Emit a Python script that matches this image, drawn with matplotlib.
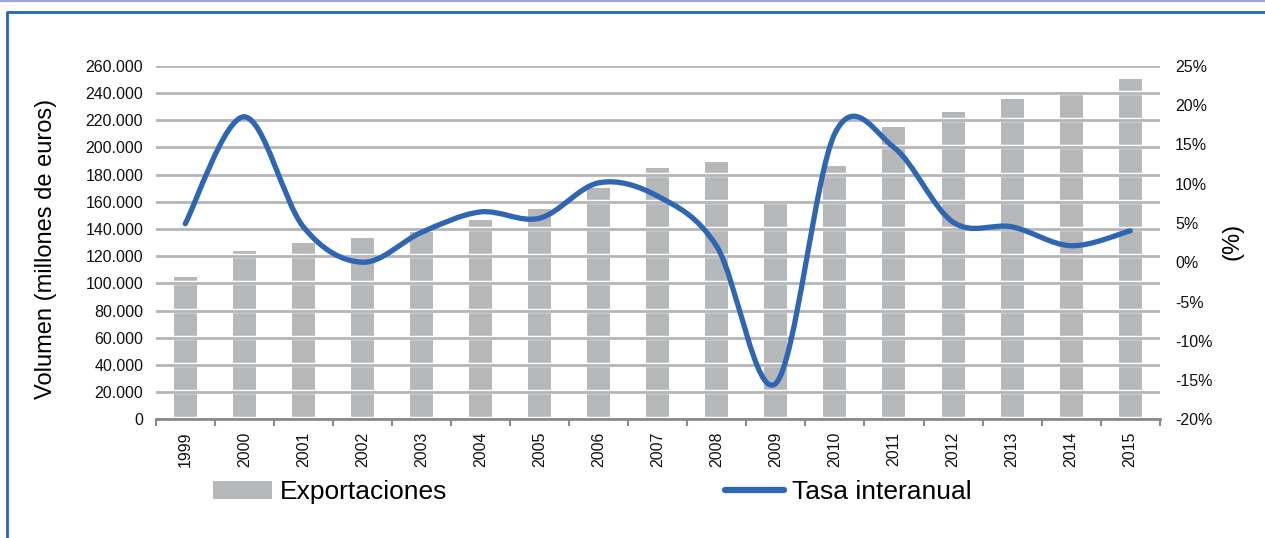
import numpy as np
import matplotlib.pyplot as plt
import matplotlib.patheffects as pe
from matplotlib.path import Path
from matplotlib.patches import PathPatch, Patch
from matplotlib.lines import Line2D
from matplotlib.ticker import FuncFormatter, FixedLocator

plt.rcParams['font.family'] = ['Liberation Sans', 'DejaVu Sans']

years = ['1999', '2000', '2001', '2002', '2003', '2004', '2005', '2006', '2007',
         '2008', '2009', '2010', '2011', '2012', '2013', '2014', '2015']
exportaciones = [104600, 123900, 129600, 133200, 137600, 146700, 154800, 170400, 185000,
                 189300, 159000, 186600, 215300, 225900, 235700, 240800, 250400]
tasa = [4.9, 18.5, 4.5, 0.0, 3.8, 6.4, 5.6, 10.1, 8.4,
        2.0, -15.4, 16.4, 14.6, 5.1, 4.5, 2.1, 4.0]

bar_color = '#b5b7b9'
line_color = '#2f66b3'
grid_color = '#b4b6b8'


def smooth_path(xs, ys):
    # excel-like smoothed line: bezier segments through every point
    pts = np.column_stack([xs, ys]).astype(float)
    n = len(pts)
    verts = [pts[0]]
    codes = [Path.MOVETO]
    for i in range(n - 1):
        p0 = pts[i - 1] if i > 0 else pts[i]
        p1 = pts[i]
        p2 = pts[i + 1]
        p3 = pts[i + 2] if i + 2 < n else pts[i + 1]
        verts += [p1 + (p2 - p0) / 6, p2 - (p3 - p1) / 6, p2]
        codes += [Path.CURVE4] * 3
    return Path(verts, codes)


fig = plt.figure(figsize=(12.65, 5.38), dpi=100)
ax = fig.add_axes([0.1231, 0.2203, 0.7937, 0.6576])
x = np.arange(len(years))

ax.bar(x, exportaciones, width=0.39, color=bar_color, zorder=1)
ax.set_xlim(-0.5, len(years) - 0.5)
ax.set_ylim(0, 260000)
ax.set_yticks(np.arange(0, 260001, 20000))
ax.yaxis.set_major_formatter(FuncFormatter(lambda v, p: f'{int(v):,}'.replace(',', '.')))
ax.set_axisbelow(False)
ax.grid(axis='y', color=grid_color, linewidth=2.0, zorder=2,
        path_effects=[pe.Stroke(linewidth=3.2, foreground='white'), pe.Normal()])
ax.tick_params(axis='y', length=0, pad=9, labelsize=11.5, colors='#111111')

ax.set_xticks(x)
ax.set_xticklabels(years, rotation=90, fontsize=11.5, color='#111111')
ax.xaxis.set_minor_locator(FixedLocator(np.arange(-0.5, len(years), 1)))
ax.tick_params(axis='x', which='major', length=0, pad=9)
ax.tick_params(axis='x', which='minor', length=5, width=1.5, color='#8a8a8a', direction='out')

for s in ['top', 'left', 'right']:
    ax.spines[s].set_visible(False)
ax.spines['bottom'].set_color('#8a8a8a')
ax.spines['bottom'].set_linewidth(2)
ax.spines['bottom'].set_zorder(3)

ax.set_ylabel('Volumen (millones de euros)', fontsize=17, va='center')
ax.yaxis.set_label_coords(-0.109, 0.482)

ax2 = ax.twinx()
ax2.set_ylim(-20, 25)
ax2.set_yticks(np.arange(-20, 26, 5))
ax2.yaxis.set_major_formatter(FuncFormatter(lambda v, p: f'{int(v)}%'))
ax2.tick_params(axis='y', length=0, pad=11, labelsize=11.5, colors='#111111')
for s in ['top', 'left', 'right', 'bottom']:
    ax2.spines[s].set_visible(False)
ax2.add_patch(PathPatch(smooth_path(x, tasa), facecolor='none', edgecolor=line_color,
                        linewidth=3.8, capstyle='round', joinstyle='round', zorder=4))
ax2.set_ylabel('(%)', fontsize=17, va='center')
ax2.yaxis.set_label_coords(1.072, 0.503)

handles = [Patch(facecolor=bar_color, edgecolor='none'),
           Line2D([], [], color=line_color, linewidth=4.5, solid_capstyle='round')]
fig.legend(handles, ['Exportaciones', 'Tasa interanual'], loc='center left',
           bbox_to_anchor=(0.1684, 0.085), ncol=2, frameon=False, fontsize=19,
           handlelength=2.25, handleheight=0.65, handletextpad=0.3,
           columnspacing=10.5, borderpad=0, borderaxespad=0)

# outer frame of the figure
fig.add_artist(Line2D([0, 1], [1 - 1 / 538, 1 - 1 / 538], color='#9ea6d8', linewidth=1.6,
                      transform=fig.transFigure))
fig.add_artist(Line2D([7.5 / 1265, 7.5 / 1265, 1], [0, 1 - 11.5 / 538, 1 - 11.5 / 538],
                      color='#1f6ab8', linewidth=2, transform=fig.transFigure))

fig.savefig('out.png', dpi=100, facecolor='white')
